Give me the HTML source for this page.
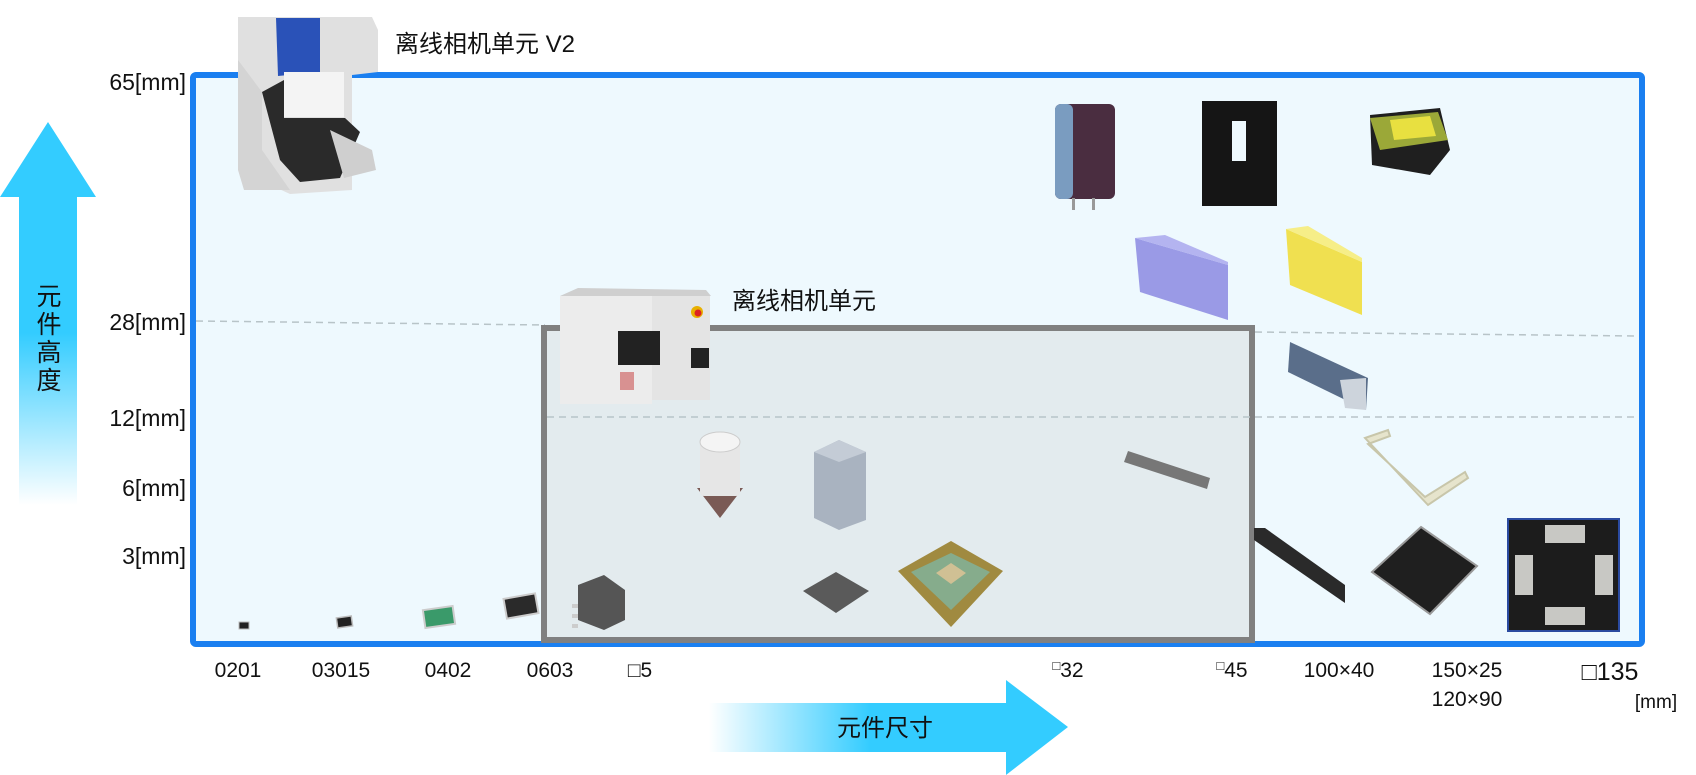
<!DOCTYPE html>
<html><head><meta charset="utf-8"><style>
html,body{margin:0;padding:0;background:#fff;width:1696px;height:775px;overflow:hidden}
svg{display:block}
text{font-family:"Liberation Sans","Noto Sans CJK SC",sans-serif;fill:#111}
</style></head><body>
<svg width="1696" height="775" viewBox="0 0 1696 775" xmlns="http://www.w3.org/2000/svg">
<defs>
<linearGradient id="vg" x1="0" y1="0" x2="0" y2="1">
<stop offset="0" stop-color="#33ccff"/><stop offset="0.55" stop-color="#33ccff"/><stop offset="1" stop-color="#ffffff"/></linearGradient>
<linearGradient id="hg" x1="0" y1="0" x2="1" y2="0">
<stop offset="0" stop-color="#ffffff"/><stop offset="0.45" stop-color="#33ccff"/><stop offset="1" stop-color="#33ccff"/></linearGradient>
</defs>
<rect x="193" y="75" width="1449" height="569" rx="3" fill="#eef9fe" stroke="#1a7ff0" stroke-width="6"/>
<line x1="196" y1="321" x2="545" y2="325" stroke="#b8c4c8" stroke-width="1.5" stroke-dasharray="7,5"/>
<line x1="1255" y1="332" x2="1639" y2="336" stroke="#b8c4c8" stroke-width="1.5" stroke-dasharray="7,5"/>
<rect x="544" y="328" width="708" height="312" fill="#e3ebee" stroke="#808080" stroke-width="6"/>
<line x1="547" y1="417" x2="1639" y2="417" stroke="#b8c4c8" stroke-width="1.5" stroke-dasharray="7,5"/>
<g font-size="23" text-anchor="end">
<text x="186" y="90">65[mm]</text>
<text x="186" y="330">28[mm]</text>
<text x="186" y="426">12[mm]</text>
<text x="186" y="496">6[mm]</text>
<text x="186" y="564">3[mm]</text>
</g>
<polygon points="48,122 96,197 77,197 77,505 19,505 19,197 0,197" fill="url(#vg)"/>
<g font-size="25" text-anchor="middle">
<text x="49" y="305">元</text><text x="49" y="333">件</text><text x="49" y="361">高</text><text x="49" y="389">度</text>
</g>
<polygon points="709,703 1006,703 1006,680 1068,727 1006,775 1006,752 709,752" fill="url(#hg)"/>
<text x="885" y="736" font-size="24" text-anchor="middle">元件尺寸</text>
<g font-size="21" text-anchor="middle">
<text x="238" y="677">0201</text>
<text x="341" y="677">03015</text>
<text x="448" y="677">0402</text>
<text x="550" y="677">0603</text>
<text x="640" y="677">□5</text>
<text x="1068" y="677"><tspan font-size="13" dy="-7">□</tspan><tspan dy="7">32</tspan></text>
<text x="1232" y="677"><tspan font-size="13" dy="-7">□</tspan><tspan dy="7">45</tspan></text>
<text x="1339" y="677">100×40</text>
<text x="1467" y="677">150×25</text>
<text x="1467" y="706">120×90</text>
<text x="1610" y="680" font-size="25">□135</text>
<text x="1656" y="708" font-size="19">[mm]</text>
</g>
<text x="395" y="52" font-size="24">离线相机单元 V2</text>
<text x="732" y="309" font-size="24">离线相机单元</text>
<!-- machine V2 -->
<g>
<polygon points="238,17 372,17 378,30 378,72 352,75 352,190 290,194 238,170" fill="#e0e0e0"/>
<polygon points="276,18 320,18 320,72 278,76" fill="#2a52b8"/>
<rect x="284" y="72" width="60" height="45" fill="#f4f4f4"/>
<polygon points="262,92 284,80 284,118 345,118 360,132 340,178 300,182 280,160" fill="#2a2a2a"/>
<polygon points="330,130 372,150 376,170 344,178" fill="#cfcfcf"/>
<polygon points="238,60 262,92 262,150 290,190 244,190 238,170" fill="#d4d4d4"/>
</g>
<!-- machine 2 -->
<g>
<polygon points="560,296 578,288 706,290 711,296" fill="#cfcfcf"/>
<rect x="560" y="296" width="92" height="108" fill="#ececec"/>
<rect x="652" y="296" width="58" height="104" fill="#e4e4e4"/>
<rect x="618" y="331" width="42" height="34" fill="#222"/>
<rect x="691" y="348" width="18" height="20" fill="#222"/>
<circle cx="697" cy="312" r="6" fill="#e8b000"/><circle cx="698" cy="313" r="3.5" fill="#d22"/>
<rect x="620" y="372" width="14" height="18" fill="#c55" opacity="0.6"/>
</g>
<rect x="239" y="622" width="10" height="7" fill="#222" stroke="#bbb" stroke-width="1"/>
<rect x="337" y="617" width="15" height="10" fill="#222" stroke="#bbb" stroke-width="1.5" transform="rotate(-8 344 622)"/>
<rect x="424" y="608" width="30" height="18" fill="#3a9a6a" stroke="#ccc" stroke-width="2" transform="rotate(-8 439 617)"/>
<rect x="505" y="596" width="32" height="20" fill="#2a2a2a" stroke="#ccc" stroke-width="2" transform="rotate(-10 521 606)"/>
<polygon points="578,585 604,575 625,590 625,620 604,630 578,620" fill="#555"/>
<rect x="572" y="604" width="6" height="4" fill="#ccc"/><rect x="572" y="614" width="6" height="4" fill="#ccc"/><rect x="572" y="624" width="6" height="4" fill="#ccc"/>
<polygon points="697,488 743,488 720,518" fill="#7a5a55"/>
<rect x="700" y="440" width="40" height="56" rx="4" fill="#e6e6e6"/>
<ellipse cx="720" cy="442" rx="20" ry="10" fill="#f4f4f4" stroke="#ccc"/>
<polygon points="839,440 866,452 866,520 839,530 814,518 814,452" fill="#a9b3c0"/>
<polygon points="839,440 866,452 839,462 814,452" fill="#c4ccd6"/>
<polygon points="836,572 869,591 836,613 803,591" fill="#5a5a5a"/>
<polygon points="951,541 1003,571 951,627 898,571" fill="#a08a40"/>
<polygon points="951,553 990,572 951,610 911,572" fill="#86ac8c"/>
<polygon points="951,563 966,573 951,584 936,573" fill="#d0c094"/>
<polygon points="1128,451 1210,478 1207,489 1124,462" fill="#777"/>
<rect x="1055" y="104" width="60" height="95" rx="6" fill="#4a2d40"/>
<rect x="1055" y="104" width="18" height="95" rx="6" fill="#7a9cc0"/>
<rect x="1072" y="198" width="3" height="12" fill="#999"/><rect x="1092" y="198" width="3" height="12" fill="#999"/>
<rect x="1202" y="101" width="75" height="105" fill="#151515"/>
<rect x="1232" y="121" width="14" height="40" fill="#eef9fe"/>
<polygon points="1370,115 1440,108 1450,150 1430,175 1372,165" fill="#1f1f1f"/>
<polygon points="1370,118 1438,112 1448,140 1380,150" fill="#9ba838"/>
<polygon points="1390,120 1430,116 1436,136 1394,140" fill="#e8e040"/>
<polygon points="1135,238 1228,265 1228,320 1140,292" fill="#9a9ae6"/>
<polygon points="1135,238 1165,235 1228,262 1228,265" fill="#b4b4f0"/>
<polygon points="1286,229 1362,262 1362,315 1290,285" fill="#f0e050"/>
<polygon points="1286,229 1308,226 1362,258 1362,262" fill="#f6ee88"/>
<polygon points="1290,342 1368,378 1366,410 1288,372" fill="#5a6e8a"/>
<polygon points="1340,380 1366,378 1366,410 1345,408" fill="#cdd4dc"/>
<polygon points="1365,438 1388,430 1390,436 1368,444 1425,497 1465,472 1468,478 1428,505" fill="#e6e4cc" stroke="#c8c6aa" stroke-width="2"/>
<polygon points="1254,528 1265,528 1345,585 1345,603 1254,540" fill="#2a2a2a"/>
<polygon points="1421,527 1477,566 1430,614 1372,572" fill="#1f1f1f" stroke="#999" stroke-width="2"/>
<rect x="1508" y="519" width="111" height="112" fill="#1c1c1c" stroke="#2a4aa0" stroke-width="2"/>
<rect x="1545" y="525" width="40" height="18" fill="#c8c8c4"/>
<rect x="1545" y="607" width="40" height="18" fill="#c8c8c4"/>
<rect x="1515" y="555" width="18" height="40" fill="#c8c8c4"/>
<rect x="1595" y="555" width="18" height="40" fill="#c8c8c4"/>
</svg>
</body></html>
